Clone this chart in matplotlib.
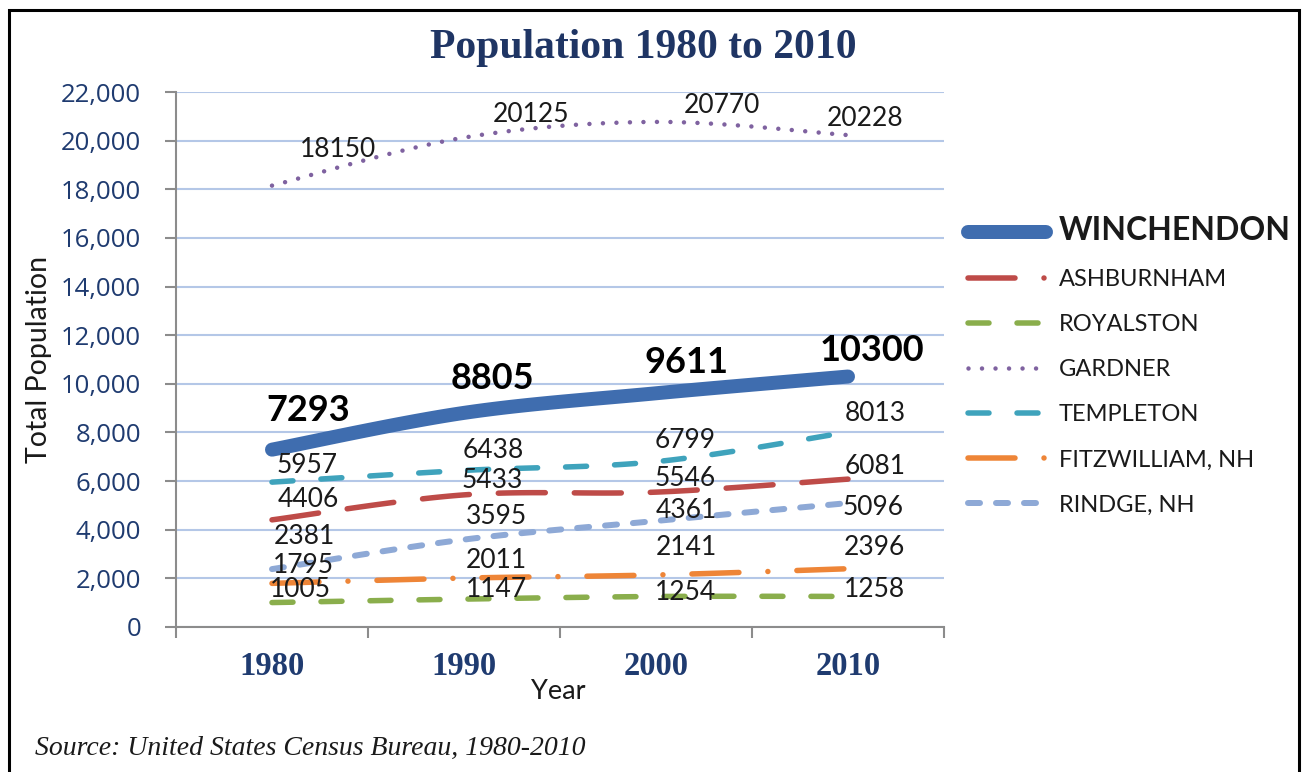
import numpy as np
import matplotlib
matplotlib.use("Agg")
import matplotlib.pyplot as plt
from matplotlib.lines import Line2D
from matplotlib.patches import Rectangle
from matplotlib.ticker import FuncFormatter

plt.rcParams['lines.scale_dashes'] = False

# ---------------- data ----------------
years = ["1980", "1990", "2000", "2010"]
winchendon = [7293, 8805, 9611, 10300]
ashburnham = [4406, 5433, 5546, 6081]
royalston = [1005, 1147, 1254, 1258]
gardner = [18150, 20125, 20770, 20228]
templeton = [5957, 6438, 6799, 8013]
fitzwilliam = [1795, 2011, 2141, 2396]
rindge = [2381, 3595, 4361, 5096]
series_names = ["WINCHENDON", "ASHBURNHAM", "ROYALSTON", "GARDNER",
                "TEMPLETON", "FITZWILLIAM, NH", "RINDGE, NH"]
yticks = list(range(0, 22001, 2000))

# ---------------- styles ----------------
PX = 0.72  # points per pixel at dpi 100


def dash(*px):
    return (0, tuple(v * PX for v in px))


styles = {
    "WINCHENDON": dict(color="#3F6DAF", lw=14 * PX, ls="-"),
    "ASHBURNHAM": dict(color="#BE4B48", lw=5.5 * PX, ls=dash(47, 29)),
    "ROYALSTON": dict(color="#8AAE4C", lw=5.5 * PX, ls=dash(21, 28)),
    "GARDNER": dict(color="#7F62A0", lw=4.5 * PX, ls=dash(0.01, 13.5)),
    "TEMPLETON": dict(color="#3FA3BC", lw=5.5 * PX, ls=dash(21, 28)),
    "FITZWILLIAM, NH": dict(color="#EE8537", lw=5.5 * PX, ls=dash(47, 29, 0.01, 29)),
    "RINDGE, NH": dict(color="#8EA9D6", lw=6 * PX, ls=dash(12, 16)),
}
legend_ls = {k: dict(v) for k, v in styles.items()}
legend_ls["ASHBURNHAM"]["ls"] = dash(47, 29, 0.01, 29)

# label offsets (pixels: right, up) from each data point
offsets = {
    "WINCHENDON": [(36, 39), (28, 34), (30, 31), (24, 26)],
    "GARDNER": [(66, 36), (67, 23), (66, 16), (17, 17)],
    "TEMPLETON": [(35, 17), (29, 20), (29, 21), (27, 19)],
    "ASHBURNHAM": [(36, 20), (28, 14), (29, 14), (27, 13)],
    "RINDGE, NH": [(32, 33), (32, 23), (30, 10), (25, -4)],
    "FITZWILLIAM, NH": [(31, 18), (32, 18), (30, 27), (26, 21)],
    "ROYALSTON": [(28, 13), (32, 10), (30, 4), (26, 7)],
}

values = {
    "WINCHENDON": winchendon, "ASHBURNHAM": ashburnham, "ROYALSTON": royalston,
    "GARDNER": gardner, "TEMPLETON": templeton, "FITZWILLIAM, NH": fitzwilliam,
    "RINDGE, NH": rindge,
}


def smooth(x, y, n=40):
    pts = np.column_stack([x, y]).astype(float)
    P = np.vstack([pts[0], pts, pts[-1]])
    out = []
    t = np.linspace(0, 1, n)[:, None]
    for i in range(len(pts) - 1):
        p0, p1, p2, p3 = P[i], P[i + 1], P[i + 2], P[i + 3]
        c1 = p1 + (p2 - p0) / 6
        c2 = p2 - (p3 - p1) / 6
        seg = (1 - t) ** 3 * p1 + 3 * (1 - t) ** 2 * t * c1 + 3 * (1 - t) * t ** 2 * c2 + t ** 3 * p2
        out.append(seg if i == 0 else seg[1:])
    s = np.vstack(out)
    return s[:, 0], s[:, 1]


navy = "#1F3B70"
fig = plt.figure(figsize=(13.08, 7.72), dpi=100)
ax = fig.add_axes([176 / 1308, 1 - 627 / 772, (944 - 176) / 1308, (627 - 92) / 772])

x = np.arange(len(years))
draw_order = ["WINCHENDON", "ASHBURNHAM", "ROYALSTON", "GARDNER", "TEMPLETON",
              "FITZWILLIAM, NH", "RINDGE, NH"]
for name in draw_order:
    st = styles[name]
    xs, ys = smooth(x, values[name])
    ax.plot(xs, ys, color=st["color"], lw=st["lw"], linestyle=st["ls"],
            solid_capstyle="round", dash_capstyle="round", zorder=3)

for name in draw_order:
    bold = name == "WINCHENDON"
    for xi, v, (dx, dy) in zip(x, values[name], offsets[name]):
        ax.annotate(str(v), (xi, v), xytext=(dx, dy), textcoords="offset pixels",
                    ha="center", va="center", fontsize=26 if bold else 19,
                    fontweight="bold" if bold else "normal", family="Lato",
                    color="#000000" if bold else "#1a1a1a", zorder=5)

ax.set_xlim(-0.5, 3.5)
ax.set_ylim(0, 22000)
ax.set_yticks(yticks)
ax.yaxis.set_major_formatter(FuncFormatter(lambda v, p: f"{int(v):,}"))
for lab in ax.get_yticklabels():
    lab.set_family("Open Sans")
ax.tick_params(axis="y", labelsize=18.5, labelcolor=navy, length=8, width=1.5,
               color="#8C8C8C", pad=17)
ax.set_xticks(np.arange(-0.5, 4, 1.0))
ax.set_xticklabels([])
ax.set_xticks(x, minor=True)
ax.set_xticklabels(years, minor=True, family="Liberation Serif", fontweight="bold",
                   fontsize=23.5, color=navy)
ax.tick_params(axis="x", which="major", length=8, width=1.5, color="#8C8C8C")
ax.tick_params(axis="x", which="minor", length=0, pad=17)

ax.grid(axis="y", color="#B4C7E7", lw=1.5)
ax.set_axisbelow(True)
for s in ("top", "right"):
    ax.spines[s].set_visible(False)
for s in ("left", "bottom"):
    ax.spines[s].set_color("#8C8C8C")
    ax.spines[s].set_linewidth(1.5)

ax.set_xlabel("Year", family="Lato", fontsize=19.5, color="#1a1a1a")
ax.xaxis.set_label_coords((558 - 176) / 768, (627 - 679) / 535)
ax.set_ylabel("Total Population", family="Lato", fontsize=20.5, color="#1a1a1a")
ax.yaxis.set_label_coords(-0.162, 0.5)

fig.text(643 / 1308, 1 - 48 / 772, "Population 1980 to 2010", ha="center", va="center",
         family="Liberation Serif", fontweight="bold", fontsize=30, color="#1F3564")
fig.text(35 / 1308, 1 - 748 / 772, "Source: United States Census Bureau, 1980-2010",
         ha="left", va="center", family="Liberation Serif", style="italic",
         fontsize=20, color="#1a1a1a")

handles = []
for name in series_names:
    st = legend_ls[name]
    handles.append(Line2D([], [], color=st["color"], lw=st["lw"], linestyle=st["ls"],
                          solid_capstyle="round", dash_capstyle="round"))
leg = fig.legend(handles, series_names, loc="upper left",
                 bbox_to_anchor=(968 / 1308, 1 - 216 / 772), frameon=False,
                 prop={"family": "Lato", "size": 17}, handlelength=3.3,
                 handletextpad=0.55, labelspacing=1.02, borderpad=0, borderaxespad=0)
t0 = leg.get_texts()[0]
t0.set_fontsize(23)
t0.set_fontweight("bold")
for t in leg.get_texts():
    t.set_color("#1a1a1a")

fig.add_artist(Rectangle((9 / 1308, -0.1), (1299 - 9) / 1308, 1 - 10 / 772 + 0.1,
                         transform=fig.transFigure, fill=False, ec="black", lw=2.2,
                         clip_on=False))

fig.savefig("out.png", dpi=100)
